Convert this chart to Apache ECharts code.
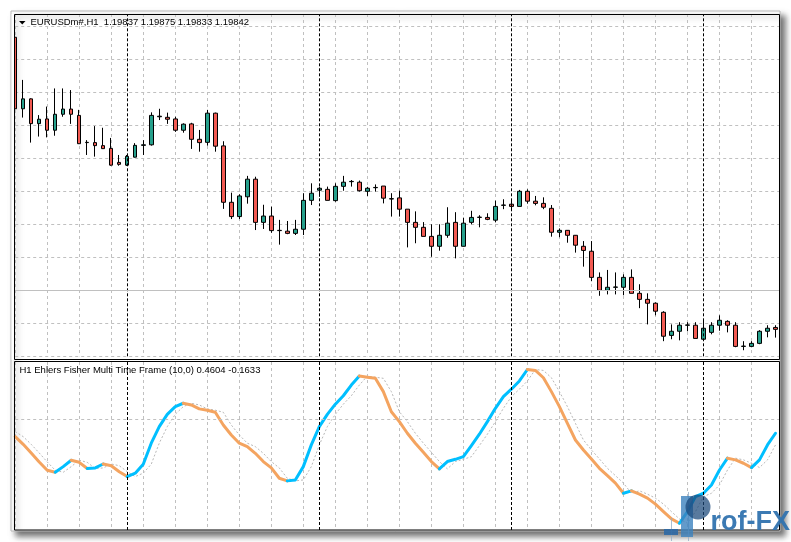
<!DOCTYPE html>
<html>
<head>
<meta charset="utf-8">
<script src="https://cdn.jsdelivr.net/npm/echarts@6/dist/echarts.min.js"></script>
<style>
html,body{margin:0;padding:0;background:#fff;}
#chart{width:791px;height:542px;}
</style>
</head>
<body>
<div id="chart"></div>
<script>
// ---- Price pane (EURUSDm#, H1) ----
const barIndex = Array.from({length: 96}, (_, i) => i);
const opens = [
1.20920,1.20660,1.20696,1.20606,1.20623,1.20582,1.20640,1.20659,1.20636,1.20537,
1.20537,1.20526,1.20516,1.20465,1.20455,1.20484,1.20527,1.20529,1.20631,1.20629,
1.20623,1.20582,1.20605,1.20549,1.20538,1.20644,1.20525,1.20320,1.20268,1.20340,
1.20404,1.20247,1.20270,1.20217,1.20215,1.20207,1.20222,1.20327,1.20364,1.20367,
1.20326,1.20378,1.20395,1.20393,1.20360,1.20373,1.20379,1.20332,1.20336,1.20295,
1.20247,1.20229,1.20196,1.20160,1.20200,1.20247,1.20160,1.20247,1.20265,1.20265,
1.20255,1.20309,1.20313,1.20305,1.20360,1.20324,1.20316,1.20298,1.20211,1.20218,
1.20200,1.20160,1.20142,1.20047,1.20000,1.20011,1.20011,1.20047,1.19989,1.19967,
1.19953,1.19920,1.19836,1.19851,1.19873,1.19873,1.19822,1.19847,1.19873,1.19887,
1.19873,1.19796,1.19796,1.19807,1.19851,1.19865];
const closes = [
1.20660,1.20696,1.20606,1.20622,1.20582,1.20640,1.20659,1.20640,1.20533,1.20538,
1.20526,1.20515,1.20455,1.20458,1.20487,1.20527,1.20529,1.20636,1.20633,1.20622,
1.20582,1.20604,1.20549,1.20537,1.20644,1.20524,1.20320,1.20268,1.20343,1.20404,
1.20247,1.20270,1.20217,1.20218,1.20207,1.20222,1.20327,1.20353,1.20371,1.20327,
1.20378,1.20393,1.20396,1.20362,1.20371,1.20374,1.20335,1.20333,1.20295,1.20247,
1.20229,1.20196,1.20160,1.20200,1.20244,1.20160,1.20244,1.20265,1.20266,1.20258,
1.20305,1.20310,1.20305,1.20360,1.20324,1.20316,1.20302,1.20211,1.20218,1.20200,
1.20164,1.20145,1.20047,1.20000,1.20011,1.20012,1.20047,1.19989,1.19967,1.19953,
1.19924,1.19833,1.19851,1.19873,1.19874,1.19825,1.19862,1.19873,1.19891,1.19873,
1.19796,1.19797,1.19807,1.19851,1.19862,1.19858];
const lows = [
1.20658,1.20628,1.20537,1.20559,1.20556,1.20562,1.20631,1.20605,1.20532,1.20492,
1.20486,1.20514,1.20453,1.20453,1.20452,1.20483,1.20492,1.20526,1.20619,1.20605,
1.20576,1.20573,1.20514,1.20504,1.20526,1.20504,1.20296,1.20259,1.20259,1.20315,
1.20219,1.20223,1.20209,1.20166,1.20204,1.20201,1.20201,1.20310,1.20340,1.20327,
1.20322,1.20362,1.20377,1.20359,1.20343,1.20359,1.20316,1.20268,1.20268,1.20156,
1.20171,1.20196,1.20122,1.20144,1.20191,1.20116,1.20159,1.20240,1.20229,1.20255,
1.20247,1.20295,1.20292,1.20305,1.20315,1.20309,1.20295,1.20195,1.20193,1.20173,
1.20137,1.20086,1.20033,1.19980,1.19985,1.19985,1.19982,1.19989,1.19935,1.19876,
1.19909,1.19815,1.19822,1.19818,1.19851,1.19825,1.19818,1.19840,1.19853,1.19847,
1.19793,1.19782,1.19793,1.19804,1.19829,1.19828];
const highs = [
1.20934,1.20765,1.20698,1.20637,1.20668,1.20734,1.20734,1.20728,1.20656,1.20546,
1.20597,1.20591,1.20554,1.20492,1.20492,1.20535,1.20546,1.20647,1.20660,1.20646,
1.20631,1.20607,1.20609,1.20583,1.20656,1.20646,1.20542,1.20355,1.20349,1.20416,
1.20413,1.20311,1.20304,1.20256,1.20252,1.20256,1.20353,1.20389,1.20377,1.20377,
1.20389,1.20416,1.20401,1.20399,1.20376,1.20385,1.20379,1.20353,1.20362,1.20295,
1.20287,1.20248,1.20240,1.20240,1.20302,1.20284,1.20264,1.20289,1.20273,1.20280,
1.20326,1.20331,1.20328,1.20365,1.20367,1.20343,1.20338,1.20310,1.20225,1.20219,
1.20201,1.20179,1.20179,1.20065,1.20074,1.20065,1.20058,1.20076,1.20022,1.19989,
1.19956,1.19924,1.19876,1.19884,1.19884,1.19884,1.19891,1.19884,1.19909,1.19891,
1.19884,1.19815,1.19815,1.19855,1.19873,1.19873];
const priceTicks = {min: 1.1976, max: 1.210046, interval: 0.0012};
const daySeparators = [14, 38, 62, 86];
const priceLevel = 1.19993;

// ---- Indicator pane (Ehlers Fisher) ----
const fisher = [
0.28,-0.13,-0.59,-1.07,-1.51,-1.62,-1.32,-0.98,-1.09,-1.42,
-1.39,-1.18,-1.27,-1.59,-1.85,-1.67,-1.19,-0.07,0.81,1.47,
1.88,2.06,1.97,1.76,1.69,1.58,0.90,0.37,-0.07,-0.25,
-0.61,-1.05,-1.39,-1.94,-2.08,-2.03,-1.32,-0.16,0.81,1.47,
2.01,2.46,3.03,3.51,3.45,3.39,2.68,1.61,1.08,0.46,
-0.07,-0.55,-1.05,-1.44,-1.05,-0.93,-0.79,-0.20,0.41,1.08,
1.79,2.41,2.81,3.25,3.86,3.81,3.42,2.68,1.88,0.99,
0.10,-0.43,-0.91,-1.41,-1.80,-2.20,-2.74,-2.61,-2.79,-3.00,
-3.32,-3.72,-4.11,-4.34,-3.72,-2.92,-2.74,-2.30,-1.50,-0.87,
-0.96,-1.14,-1.37,-0.96,-0.1633,0.4604];
const trigger = [
0.55,0.28,-0.13,-0.59,-1.07,-1.51,-1.62,-1.32,-0.98,-1.09,
-1.42,-1.39,-1.18,-1.27,-1.59,-1.85,-1.67,-1.19,-0.07,0.81,
1.47,1.88,2.06,1.97,1.76,1.69,1.58,0.90,0.37,-0.07,
-0.25,-0.61,-1.05,-1.39,-1.94,-2.08,-2.03,-1.32,-0.16,0.81,
1.47,2.01,2.46,3.03,3.51,3.45,3.39,2.68,1.61,1.08,
0.46,-0.07,-0.55,-1.05,-1.44,-1.05,-0.93,-0.79,-0.20,0.41,
1.08,1.79,2.41,2.81,3.25,3.86,3.81,3.42,2.68,1.88,
0.99,0.10,-0.43,-0.91,-1.41,-1.80,-2.20,-2.74,-2.61,-2.79,
-3.00,-3.32,-3.72,-4.11,-4.34,-3.72,-2.92,-2.74,-2.30,-1.50,
-0.87,-0.96,-1.14,-1.37,-0.96,-0.1633];
const fisherRange = {min: -4.7, max: 4.26};
const fisherLevel = 1.223;

const titleText = 'EURUSDm#,H1  1.19837 1.19875 1.19833 1.19842';
const indicatorText = 'H1 Ehlers Fisher Multi Time Frame (10,0) 0.4604 -0.1633';

const UP = '#00bfff', DOWN = '#f4a460';
const BULL = '#26a08c', BEAR = '#f25a52';

// candles
const candleData = barIndex.map(i => [i, opens[i], closes[i], lows[i], highs[i]]);

// colour runs of the Fisher line (rising = blue, falling = orange)
const fisherSeries = [];
let runStart = 0, runUp = fisher[1] >= fisher[0];
for (let i = 2; i <= fisher.length; i++) {
  const up = i < fisher.length ? fisher[i] >= fisher[i - 1] : null;
  if (up !== runUp) {
    const pts = [];
    for (let k = runStart; k <= i - 1; k++) pts.push([barIndex[k], fisher[k]]);
    fisherSeries.push({
      type: 'line', xAxisIndex: 1, yAxisIndex: 1, data: pts,
      showSymbol: false, silent: true, z: 4, animation: false,
      lineStyle: {width: 3, color: runUp ? UP : DOWN, cap: 'round', join: 'round'}
    });
    runStart = i - 1; runUp = up;
  }
}

const sepLine = {
  silent: true, symbol: 'none', animation: false,
  label: {show: false},
  lineStyle: {color: '#000', type: [3, 2], width: 1},
  emphasis: {disabled: true}
};

const gridLeft = 15.2, gridRight = 11.5;
const splitStyle = {show: true, lineStyle: {color: '#c0c0c0', type: [3, 3], width: 1}};

const chart = echarts.init(document.getElementById('chart'), null, {renderer: 'canvas'});
chart.setOption({
  animation: false,
  backgroundColor: '#ffffff',
  grid: [
    {left: gridLeft, right: gridRight, top: 14, height: 342.3},
    {left: gridLeft, right: gridRight, top: 362, height: 168}
  ],
  xAxis: [0, 1].map(g => ({
    type: 'value', gridIndex: g, min: 0, max: 95.5, interval: 4,
    axisLine: {show: false}, axisTick: {show: false}, axisLabel: {show: false},
    splitLine: splitStyle
  })),
  yAxis: [
    {type: 'value', gridIndex: 0, min: priceTicks.min, max: priceTicks.max, interval: priceTicks.interval,
     scale: true, axisLine: {show: false}, axisTick: {show: false}, axisLabel: {show: false},
     splitLine: splitStyle},
    {type: 'value', gridIndex: 1, min: fisherRange.min, max: fisherRange.max,
     axisLine: {show: false}, axisTick: {show: false}, axisLabel: {show: false},
     splitLine: {show: false}}
  ],
  series: [
    {
      type: 'candlestick', xAxisIndex: 0, yAxisIndex: 0, data: candleData,
      encode: {x: 0, y: [1, 2, 3, 4]}, barWidth: 4, silent: true, z: 3, clip: false,
      itemStyle: {color: BULL, color0: BEAR, borderColor: '#000', borderColor0: '#000', borderColorDoji: '#000', borderWidth: 1},
      markLine: Object.assign({}, sepLine, {
        data: daySeparators.map(x => ({xAxis: x})).concat([
          {yAxis: priceLevel, lineStyle: {color: '#c0c0c0', type: 'solid', width: 1}}
        ])
      })
    },
    {
      type: 'line', xAxisIndex: 1, yAxisIndex: 1,
      data: trigger.map((v, i) => [barIndex[i], v]),
      showSymbol: false, silent: true, z: 3,
      lineStyle: {width: 1, color: '#b8b8b8', type: [2, 2]},
      markLine: Object.assign({}, sepLine, {
        data: daySeparators.map(x => ({xAxis: x})).concat([
          {yAxis: fisherLevel, lineStyle: {color: '#c0c0c0', type: [3, 3], width: 1}}
        ])
      })
    }
  ].concat(fisherSeries),
  graphic: [
    {type: 'rect', z: -10, silent: true,
     shape: {x: 11, y: 11, width: 769, height: 520},
     style: {fill: '#ffffff', stroke: '#b8b8b8', lineWidth: 1,
             shadowBlur: 6, shadowColor: 'rgba(0,0,0,0.55)', shadowOffsetX: 5, shadowOffsetY: 5}},
    // mask for the part of the first candle that lies left of the pane
    {type: 'rect', z: 40, silent: true,
     shape: {x: 11.6, y: 14, width: 2.6, height: 346},
     style: {fill: '#ffffff'}},
    {type: 'rect', z: 50, silent: true,
     shape: {x: 14.5, y: 14.5, width: 765, height: 345},
     style: {fill: 'none', stroke: '#000', lineWidth: 1}},
    {type: 'rect', z: 50, silent: true,
     shape: {x: 14.5, y: 361.5, width: 765, height: 168.5},
     style: {fill: 'none', stroke: '#000', lineWidth: 1}},
    {type: 'polygon', z: 60, silent: true,
     shape: {points: [[19, 21], [25.5, 21], [22.25, 24.5]]},
     style: {fill: '#000'}},
    {type: 'text', z: 60, silent: true,
     style: {text: titleText, x: 30.5, y: 22.6, fill: '#000',
             font: '9.5px "Liberation Sans", Arial, sans-serif', align: 'left', verticalAlign: 'middle'}},
    {type: 'text', z: 60, silent: true,
     style: {text: indicatorText, x: 19.5, y: 370.8, fill: '#000',
             font: '9.5px "Liberation Sans", Arial, sans-serif', align: 'left', verticalAlign: 'middle'}},
    // Prof-FX watermark
    {type: 'line', z: 70, silent: true, shape: {x1: 671.5, y1: 518, x2: 671.5, y2: 541},
     style: {stroke: 'rgba(150,175,200,0.8)', lineWidth: 1}},
    {type: 'line', z: 70, silent: true, shape: {x1: 688.5, y1: 492, x2: 688.5, y2: 541},
     style: {stroke: 'rgba(150,175,200,0.8)', lineWidth: 1}},
    {type: 'rect', z: 71, silent: true, shape: {x: 664, y: 529, width: 14, height: 6},
     style: {fill: 'rgba(45,105,165,0.9)'}},
    {type: 'rect', z: 71, silent: true, shape: {x: 681, y: 496, width: 12, height: 41},
     style: {fill: 'rgba(60,130,190,0.8)'}},
    {type: 'circle', z: 72, silent: true, shape: {cx: 698, cy: 507, r: 12.5},
     style: {fill: 'rgba(25,70,120,0.72)'}},
    {type: 'text', z: 72, silent: true,
     style: {text: 'rof-FX', x: 710.5, y: 536, fill: 'rgba(50,115,175,0.95)',
             font: 'bold 27px "Liberation Sans", Arial, sans-serif', align: 'left', verticalAlign: 'bottom'}}
  ]
});
</script>
</body>
</html>
